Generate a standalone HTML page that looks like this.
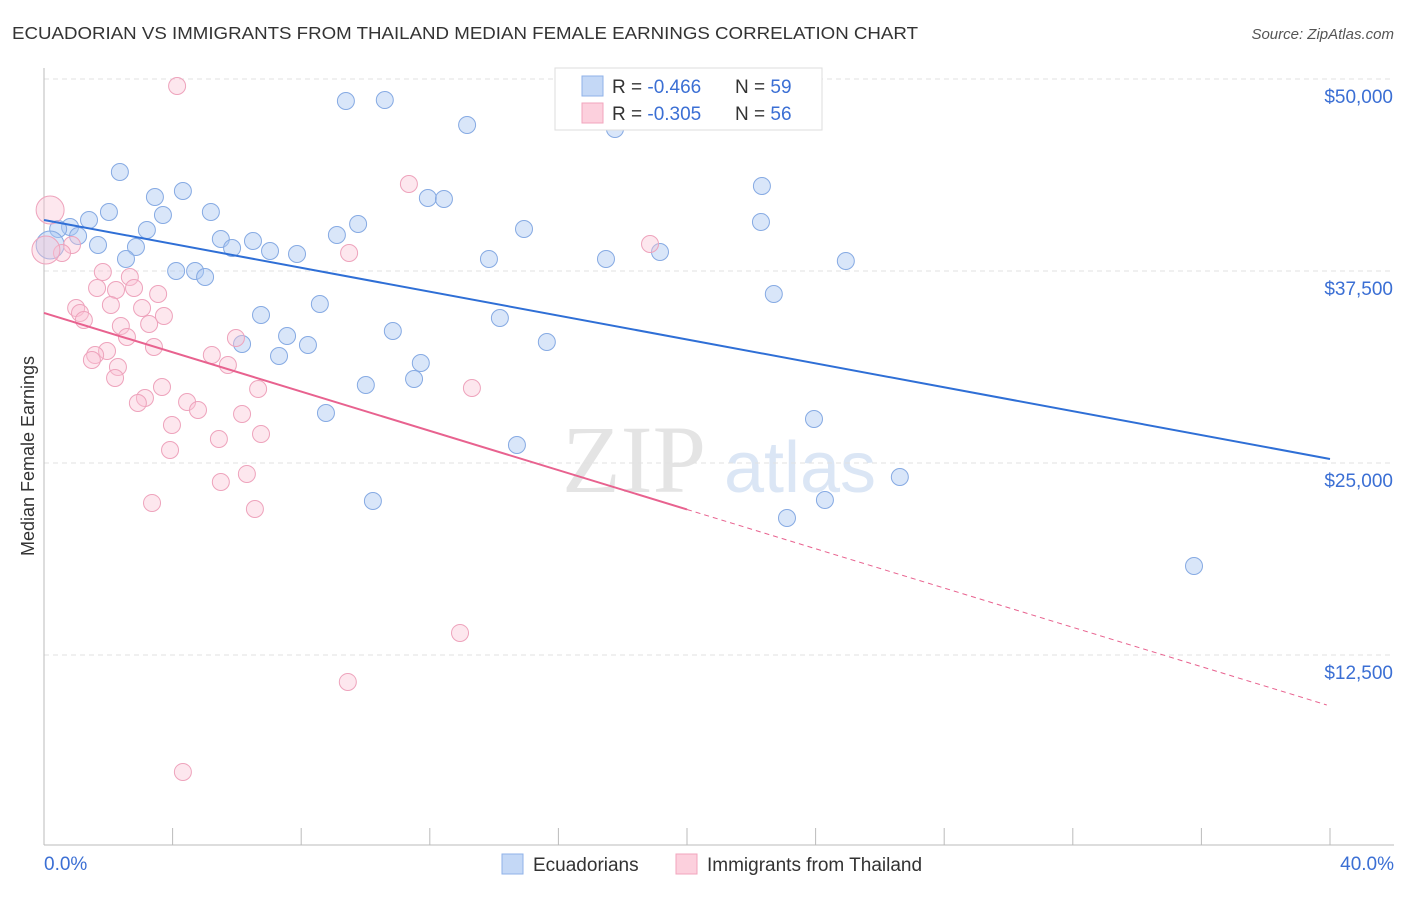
<!DOCTYPE html>
<html><head><meta charset="utf-8"><style>
body{margin:0;background:#fff;font-family:"Liberation Sans",sans-serif}
</style></head><body>
<svg id="chart" width="1406" height="892" viewBox="0 0 1406 892" xmlns="http://www.w3.org/2000/svg">
<text x="12" y="39" font-size="17.5" fill="#333" textLength="906" lengthAdjust="spacingAndGlyphs">ECUADORIAN VS IMMIGRANTS FROM THAILAND MEDIAN FEMALE EARNINGS CORRELATION CHART</text>
<text x="1394" y="39" font-size="15" fill="#555" font-style="italic" text-anchor="end">Source: ZipAtlas.com</text>
<text x="634" y="492" font-size="96" fill="#e4e4e4" font-family="Liberation Serif,serif" text-anchor="middle">ZIP</text>
<text x="800" y="492" font-size="72" fill="#dbe6f5" text-anchor="middle">atlas</text>
<g id="grid"></g><g id="axes"></g><g id="marks"></g>
<text x="34" y="456" font-size="18" fill="#333" text-anchor="middle" transform="rotate(-90 34 456)">Median Female Earnings</text>
<text x="44" y="870" font-size="19" fill="#3b6fd4">0.0%</text>
<text x="1394" y="870" font-size="19" fill="#3b6fd4" text-anchor="end">40.0%</text>
<g>
<rect x="555" y="68" width="267" height="62" fill="#fff" stroke="#ddd"/>
<rect x="582" y="76" width="21" height="20" fill="#c4d8f6" stroke="#8fb2e8"/>
<rect x="582" y="103" width="21" height="20" fill="#fcd0dd" stroke="#f2a5bd"/>
<text x="612" y="93" font-size="19" fill="#333">R = <tspan fill="#3b6fd4">-0.466</tspan></text>
<text x="735" y="93" font-size="19" fill="#333">N = <tspan fill="#3b6fd4">59</tspan></text>
<text x="612" y="120" font-size="19" fill="#333">R = <tspan fill="#3b6fd4">-0.305</tspan></text>
<text x="735" y="120" font-size="19" fill="#333">N = <tspan fill="#3b6fd4">56</tspan></text>
</g>
<g>
<rect x="502" y="854" width="21" height="20" fill="#c4d8f6" stroke="#8fb2e8"/>
<text x="533" y="871" font-size="19" fill="#333">Ecuadorians</text>
<rect x="676" y="854" width="21" height="20" fill="#fcd0dd" stroke="#f2a5bd"/>
<text x="707" y="871" font-size="19" fill="#333">Immigrants from Thailand</text>
</g>
</svg>
<script>
const yTicks=[12500,25000,37500,50000];
const yTickLabels=["$12,500","$25,000","$37,500","$50,000"];
const xTicks=[0,4,8,12,16,20,24,28,32,36,40];
const blueX=[9.39,10.60,13.16,17.76,2.36,22.33,4.32,3.45,11.94,12.44,2.02,5.19,3.70,1.40,9.77,22.30,0.81,0.44,3.20,14.93,1.06,5.50,6.50,9.11,1.68,2.86,5.85,7.03,7.87,19.16,2.55,13.84,17.48,24.94,4.11,4.70,5.01,22.70,8.58,6.75,14.18,10.85,7.56,15.64,6.16,8.21,7.31,11.72,11.51,10.01,8.77,23.95,14.71,26.62,10.23,24.29,23.11,35.77,0.19];
const blueY=[48568,48633,47005,46745,43946,43034,42709,42318,42253,42188,41342,41342,41147,40821,40561,40691,40365,40235,40170,40235,39779,39584,39454,39844,39193,39063,38998,38803,38608,38738,38282,38282,38282,38152,37501,37501,37110,36004,35353,34637,34441,33595,33269,32879,32748,32683,31967,31512,30470,30079,28257,27866,26173,24090,22528,22593,21421,18296,39193];
const pinkX=[4.14,11.35,0.19,18.85,9.49,0.87,0.56,1.83,2.67,1.65,2.24,2.80,3.55,1.00,2.08,1.12,3.05,3.73,1.24,2.39,3.27,2.58,5.97,3.42,1.96,1.59,1.49,5.22,5.72,2.30,2.21,3.67,6.66,13.31,3.14,2.92,4.45,4.79,6.16,3.98,6.75,5.44,3.92,6.31,5.50,3.36,6.56,12.94,9.45,4.32,0.06];
const pinkY=[49544,43165,41472,39258,38673,39193,38673,37436,37110,36394,36264,36394,36004,35092,35288,34767,35092,34571,34311,33920,34050,33204,33139,32553,32293,32033,31707,32033,31382,31251,30535,29949,29819,29884,29233,28908,28973,28452,28192,27475,26889,26564,25848,24286,23765,22398,22007,13935,10745,4886,38868];
const bigIdxBlue=[58], bigIdxPink=[2,50];
const blueTrend=[40821,25262];
const pinkTrend=[34767,9247];
const NS="http://www.w3.org/2000/svg";
function xs(v){return 44+v/40*1286;}
function ys(v){return 847-v/12500*192;}
function mk(tag,attrs,parent){const e=document.createElementNS(NS,tag);for(const k in attrs)e.setAttribute(k,attrs[k]);document.getElementById(parent).appendChild(e);return e;}
yTicks.forEach((t,i)=>{
 const g=mk('line',{x1:44,x2:1394,y1:ys(t),y2:ys(t),stroke:'#e2e2e2','stroke-dasharray':'5,4'},'grid');
 
 
 const l=mk('text',{x:1393,y:ys(t)+24,'font-size':19,fill:'#3b6fd4','text-anchor':'end'},'axes');
 l.textContent=yTickLabels[i];
 
 
});
const ax=mk('line',{x1:44,x2:44,y1:68,y2:845,stroke:'#bbb'},'axes');


const bx=mk('line',{x1:44,x2:1394,y1:845,y2:845,stroke:'#bbb'},'axes');


xTicks.forEach(t=>{
 const tk=mk('line',{x1:xs(t),x2:xs(t),y1:828,y2:845,stroke:'#bbb'},'axes');
 
 
});
function dots(X,Y,big,fill,stroke,name){
 X.forEach((x,i)=>{
  const r=big.includes(i)?14:8.5;
  const c=mk('circle',{cx:xs(x),cy:ys(Y[i]),r:r,fill:fill,stroke:stroke,'stroke-width':1},'marks');
  
  
 });
}
dots(blueX,blueY,bigIdxBlue,'rgba(170,200,242,0.45)','#86aae3','point-ecuadorians');
dots(pinkX,pinkY,bigIdxPink,'rgba(250,195,212,0.4)','#eea3bc','point-thailand');
const bl=mk('line',{x1:xs(0),y1:ys(blueTrend[0]),x2:xs(40),y2:ys(blueTrend[1]),stroke:'#2f6fd6','stroke-width':2},'marks');


const pv=x=>pinkTrend[0]+(pinkTrend[1]-pinkTrend[0])*x/39.9;
const pl=mk('line',{x1:xs(0),y1:ys(pv(0)),x2:xs(20),y2:ys(pv(20)),stroke:'#e8628f','stroke-width':2},'marks');


const pd=mk('line',{x1:xs(20),y1:ys(pv(20)),x2:xs(39.9),y2:ys(pv(39.9)),stroke:'#e8628f','stroke-width':1,'stroke-dasharray':'5,4'},'marks');


</script>
</body></html>
